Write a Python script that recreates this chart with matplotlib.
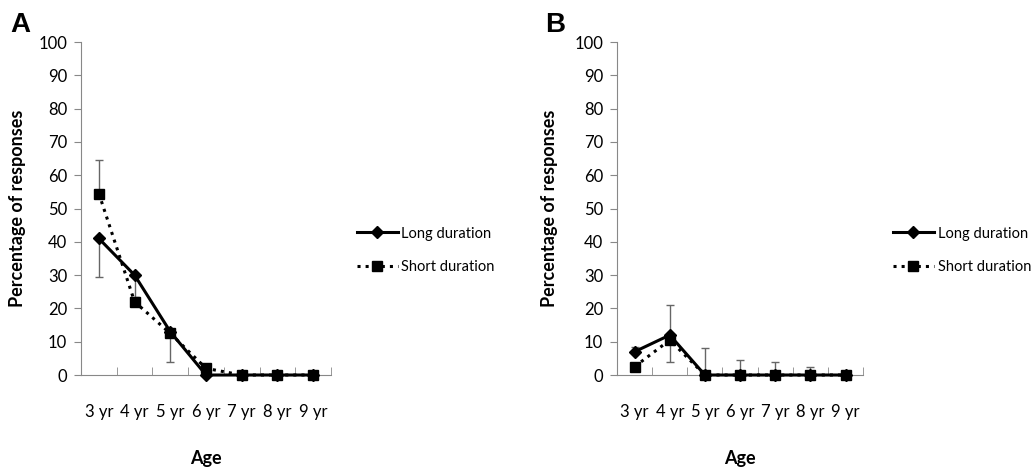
import matplotlib
matplotlib.use("Agg")
import matplotlib.pyplot as plt
import numpy as np

plt.rcParams.update({
    "font.family": ["Lato", "DejaVu Sans"],
    "font.size": 12,
})

ages = ["3 yr", "4 yr", "5 yr", "6 yr", "7 yr", "8 yr", "9 yr"]
yticks = [0, 10, 20, 30, 40, 50, 60, 70, 80, 90, 100]

# panel A
a_long = [41, 30, 13, 0, 0, 0, 0]
a_short = [54.5, 22, 12.5, 2, 0, 0, 0]
a_long_lo = [11.5, 6.5, 0, 0, 0, 0, 0]
a_long_hi = [0, 0, 0, 0, 0, 0, 0]
a_short_lo = [0, 0, 8.5, 0, 0, 0, 0]
a_short_hi = [10, 0, 0, 0, 0, 0, 0]

# panel B
b_long = [7, 12, 0, 0, 0, 0, 0]
b_short = [2.5, 10.5, 0, 0, 0, 0, 0]
b_long_lo = [0, 8, 0, 0, 0, 0, 0]
b_long_hi = [1.5, 9, 8, 4.5, 4, 2.5, 0]
b_short_lo = [0, 0, 0, 0, 0, 0, 0]
b_short_hi = [0, 0, 0, 0, 0, 0, 0]


def draw_panel(ax, long_vals, short_vals, long_err, short_err, ylab_x, leg_x):
    x = np.arange(len(ages))
    for vals, err in ((long_vals, long_err), (short_vals, short_err)):
        lo, hi = np.array(err[0]), np.array(err[1])
        keep = (lo + hi) > 0
        ax.errorbar(x[keep], np.array(vals)[keep], yerr=[lo[keep], hi[keep]], fmt='none',
                    ecolor='#666666', elinewidth=1, capsize=3, capthick=1, zorder=1)
    ax.plot(x, long_vals, '-', color='black', lw=2.2, marker='D', markersize=6.5,
            label='Long duration', zorder=3)
    ax.plot(x, short_vals, ':', color='black', lw=2.2, marker='s', markersize=6.5,
            label='Short duration', zorder=2)
    ax.set_xlim(-0.5, len(ages) - 0.5)
    ax.set_ylim(0, 100)
    ax.set_yticks(yticks)
    ax.set_xticks(x)
    ax.set_xticklabels(ages)
    ax.set_xticks(np.arange(len(ages) + 1) - 0.5, minor=True)
    ax.tick_params(axis='x', which='major', length=0, pad=21, labelsize=12)
    ax.tick_params(axis='x', which='minor', length=6, color='#888888', direction='in')
    ax.tick_params(axis='y', length=5, color='#888888', direction='out', pad=5, labelsize=12)
    for s in ['top', 'right']:
        ax.spines[s].set_visible(False)
    for s in ['left', 'bottom']:
        ax.spines[s].set_color('#888888')
    ax.set_ylabel("Percentage of responses", fontweight='bold', fontsize=13)
    ax.yaxis.set_label_coords(ylab_x, 0.5)
    ax.set_xlabel("Age", fontweight='bold', fontsize=13)
    ax.xaxis.set_label_coords(0.5, -0.225)
    for line in ax.lines:
        line.set_clip_on(False)
    fig.legend(handles=ax.lines[-2:], loc='center left', bbox_to_anchor=(leg_x, 0.466),
               frameon=False, borderpad=0, borderaxespad=0, handlelength=2.8,
               handletextpad=0.25, labelspacing=1.35, fontsize=10.5)


fig = plt.figure(figsize=(10.36, 4.69), dpi=100)
ax_a = fig.add_axes([0.0782, 0.2004, 0.2413, 0.710])
ax_b = fig.add_axes([0.5956, 0.2004, 0.2375, 0.710])

draw_panel(ax_a, a_long, a_short, (a_long_lo, a_long_hi), (a_short_lo, a_short_hi),
           -0.22, 0.3446)
draw_panel(ax_b, b_long, b_short, (b_long_lo, b_long_hi), (b_short_lo, b_short_hi),
           -0.24, 0.862)

fig.text(0.010, 0.932, "A", fontsize=20, fontweight='bold', family='Liberation Sans')
fig.text(0.526, 0.932, "B", fontsize=20, fontweight='bold', family='Liberation Sans')

fig.savefig("out.png", dpi=100)
